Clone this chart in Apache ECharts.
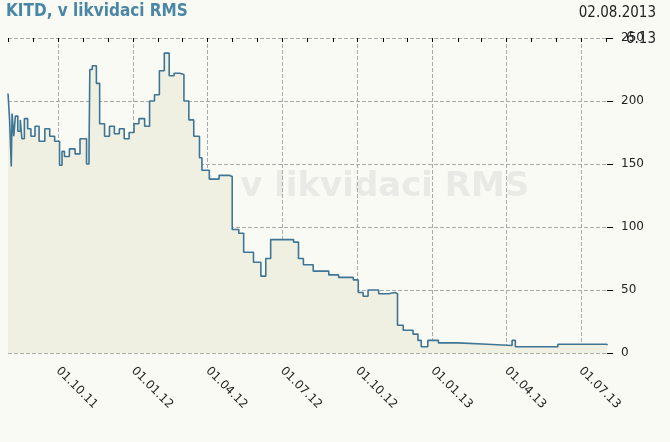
<!DOCTYPE html><html><head><meta charset="utf-8">
<script src="https://cdn.jsdelivr.net/npm/echarts@6/dist/echarts.min.js"></script>
<style>html,body{margin:0;background:#fafaf5}#c{width:670px;height:442px}</style></head><body><div id="c"></div>
<script>
const dates=['2011-08-01','2011-08-03','2011-08-05','2011-08-06','2011-08-08','2011-08-10','2011-08-13','2011-08-16','2011-08-18','2011-08-21','2011-08-25','2011-08-29','2011-09-03','2011-09-08','2011-09-15','2011-09-21','2011-09-27','2011-10-03','2011-10-06','2011-10-09','2011-10-15','2011-10-22','2011-10-28','2011-11-05','2011-11-08','2011-11-09','2011-11-12','2011-11-17','2011-11-21','2011-11-27','2011-12-03','2011-12-09','2011-12-15','2011-12-21','2011-12-27','2012-01-02','2012-01-08','2012-01-15','2012-01-21','2012-01-27','2012-02-02','2012-02-08','2012-02-14','2012-02-20','2012-02-27','2012-03-03','2012-03-09','2012-03-15','2012-03-22','2012-03-25','2012-04-03','2012-04-15','2012-04-27','2012-05-01','2012-05-09','2012-05-15','2012-05-27','2012-06-05','2012-06-11','2012-06-17','2012-07-03','2012-07-15','2012-07-21','2012-07-27','2012-08-08','2012-08-27','2012-09-08','2012-09-26','2012-10-02','2012-10-08','2012-10-14','2012-10-27','2012-11-08','2012-11-16','2012-11-19','2012-11-26','2012-12-08','2012-12-14','2012-12-18','2012-12-26','2013-01-08','2013-02-01','2013-03-09','2013-04-08','2013-04-12','2013-05-09','2013-06-03','2013-06-27','2013-07-21','2013-08-02'];
const prices=[206,185,148,190,172,188,176,185,170,186,178,172,180,168,178,172,168,149,160,156,162,158,170,150,160,225,228,214,182,172,180,174,178,170,175,182,186,180,200,205,224,238,220,222,221,200,185,172,155,145,138,141,140,98,95,80,72,61,75,90,90,88,75,70,65,62,60,58,48,45,50,47,48,47,22,18,15,10,5,10,8,7,6,10,5,5,7,7,7,6.13];
const days=[];for(let t=Date.UTC(2011,7,1);t<=Date.UTC(2013,7,2);t+=86400000)days.push(new Date(t).toISOString().slice(0,10));
const isMonth=(i,v)=>v.slice(8)==='01';
const isQuarter=(i,v)=>v.slice(8)==='01'&&['01','04','07','10'].includes(v.slice(5,7));
const data=dates.map((d,i)=>[d,prices[i]]);
const fmt=v=>v.slice(8,10)+'.'+v.slice(5,7)+'.'+v.slice(2,4);
const c=echarts.init(document.getElementById('c'));
c.setOption({backgroundColor:'#fafaf5',animation:false,
grid:{left:8,right:63,top:38,bottom:89},
graphic:[
{type:'text',left:6,top:3,style:{text:'KITD, v likvidaci RMS',fill:'#4a86a6',font:'bold 17px "DejaVu Sans Condensed","DejaVu Sans"'}},
{type:'text',right:14,top:6,style:{text:'02.08.2013',fill:'#222',font:'15px "DejaVu Sans Condensed","DejaVu Sans"'}},
{type:'text',right:14,top:32,style:{text:'6.13',fill:'#222',font:'15px "DejaVu Sans Condensed","DejaVu Sans"'}},
{type:'text',left:125,top:170,z:0,style:{text:'KITD, v likvidaci RMS',fill:'rgba(200,200,200,0.35)',font:'bold 34px "DejaVu Sans"'}},
{type:'text',left:20,top:332,style:{text:'www.kurzy.cz',fill:'#bbb',font:'14px "DejaVu Sans Condensed","DejaVu Sans"'}}
],
xAxis:[{type:'category',data:days,boundaryGap:false,position:'bottom',
 axisLine:{show:false},
 splitLine:{show:true,interval:isQuarter,lineStyle:{type:'dashed',color:'#aaa'}},
 axisTick:{show:true,interval:isMonth,length:-5,lineStyle:{color:'#000'}},
 axisLabel:{interval:isQuarter,formatter:fmt,rotate:-45,color:'#222',fontSize:12,margin:16,fontFamily:'DejaVu Sans'}},
{type:'category',data:days,boundaryGap:false,position:'top',axisLine:{show:false},splitLine:{show:false},axisLabel:{show:false},
 axisTick:{show:true,interval:isMonth,length:-4,lineStyle:{color:'#000'}}}],
yAxis:{type:'value',position:'right',min:0,max:250,interval:50,
 axisLine:{show:false},axisTick:{show:true,length:6,lineStyle:{color:'#000'}},
 splitLine:{lineStyle:{type:'dashed',color:'#aaa'}},
 axisLabel:{color:'#222',fontSize:12,margin:14,fontFamily:'DejaVu Sans'}},
series:[{type:'line',data:data,symbol:'none',step:'end',lineStyle:{color:'#3e7595',width:1.6},
 areaStyle:{color:'#eff0e2',opacity:1}}]
});
</script></body></html>
